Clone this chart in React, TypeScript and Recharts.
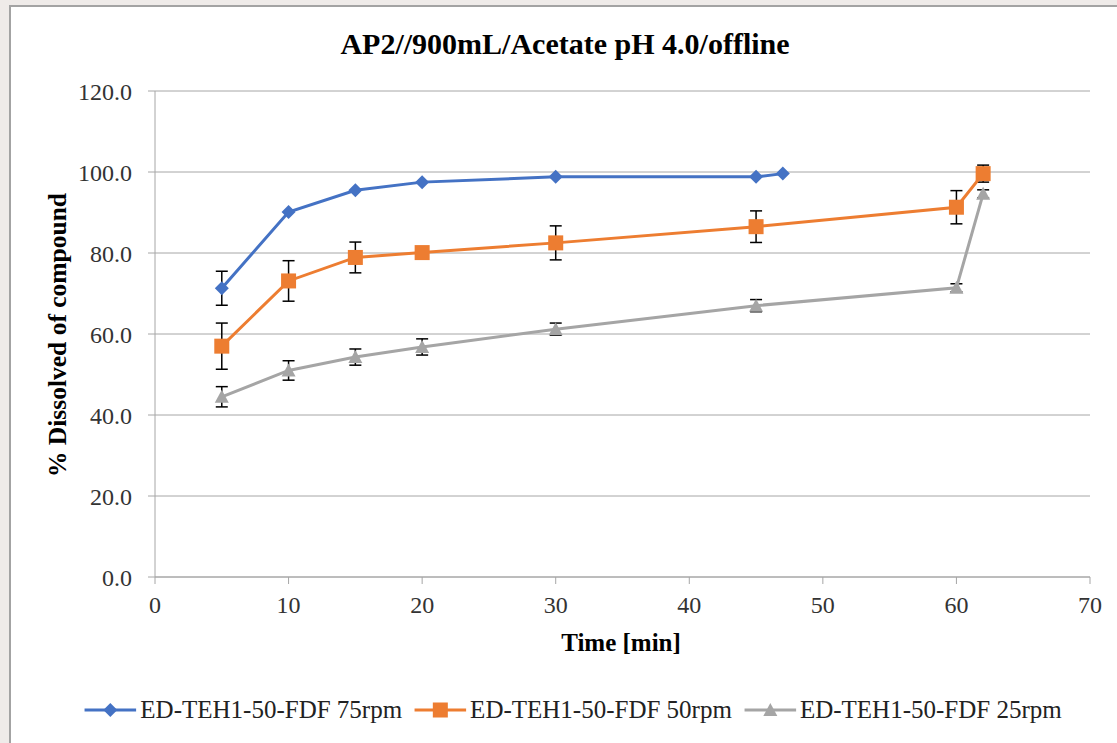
import { LineChart, Line, XAxis, YAxis, CartesianGrid, ErrorBar } from 'recharts';

const timesFast = [5, 10, 15, 20, 30, 45, 47];
const fast75 = [71.3, 90.1, 95.5, 97.5, 98.8, 98.8, 99.6];
const fast75Err = [4.2, 0, 0, 0, 0, 0, 0];

const timesSlow = [5, 10, 15, 20, 30, 45, 60, 62];
const mid50 = [57.0, 73.1, 78.9, 80.1, 82.5, 86.5, 91.3, 99.6];
const mid50Err = [5.7, 5.0, 3.8, 0, 4.2, 3.9, 4.1, 2.1];
const slow25 = [44.5, 51.0, 54.3, 56.8, 61.2, 67.0, 71.4, 94.6];
const slow25Err = [2.5, 2.4, 2.0, 2.0, 1.5, 1.5, 1.0, 1.0];

const xTicks = [0, 10, 20, 30, 40, 50, 60, 70];
const yTicks = [0, 20, 40, 60, 80, 100, 120];

const seriesNames = ['ED-TEH1-50-FDF 75rpm', 'ED-TEH1-50-FDF 50rpm', 'ED-TEH1-50-FDF 25rpm'];
const COLORS = ['#4472c4', '#ed7d31', '#a5a5a5'];

const fastData = timesFast.map((t, i) => ({ time: t, value: fast75[i], err: fast75Err[i] }));
const midData = timesSlow.map((t, i) => ({ time: t, value: mid50[i], err: mid50Err[i] }));
const slowData = timesSlow.map((t, i) => ({ time: t, value: slow25[i], err: slow25Err[i] }));

const FONT = '"Liberation Serif", "Times New Roman", serif';

const Marker = ({ kind, cx, cy, color }: { kind: number; cx: number; cy: number; color: string }) => {
  if (kind === 0) {
    const r = 7;
    return <polygon points={`${cx},${cy - r} ${cx + r},${cy} ${cx},${cy + r} ${cx - r},${cy}`} fill={color} />;
  }
  if (kind === 1) {
    return <rect x={cx - 7.5} y={cy - 7.5} width={15} height={15} fill={color} />;
  }
  return <polygon points={`${cx},${cy - 7} ${cx + 7},${cy + 6} ${cx - 7},${cy + 6}`} fill={color} />;
};

const dotFor = (kind: number) => (p: any) => (
  <Marker key={`dot-${kind}-${p.index}`} kind={kind} cx={p.cx} cy={p.cy} color={COLORS[kind]} />
);

const App = () => {
  return (
    <div
      style={{
        position: 'fixed',
        left: 0,
        top: 0,
        width: 1117,
        height: 743,
        background: '#efebe9',
        overflow: 'hidden',
        fontFamily: FONT,
      }}
    >
      <div
        style={{
          position: 'absolute',
          left: 9,
          top: 5,
          width: 1130,
          height: 760,
          background: '#ffffff',
          borderLeft: '2px solid #a3a3a3',
          borderTop: '2px solid #a3a3a3',
        }}
      />
      <div
        style={{
          position: 'absolute',
          left: 565,
          top: 44,
          transform: 'translate(-50%, -50%)',
          whiteSpace: 'nowrap',
          fontWeight: 'bold',
          fontSize: 30,
          color: '#000',
        }}
      >
        AP2//900mL/Acetate pH 4.0/offline
      </div>
      <div
        style={{
          position: 'absolute',
          left: 58,
          top: 335,
          transform: 'translate(-50%, -50%) rotate(-90deg)',
          whiteSpace: 'nowrap',
          fontWeight: 'bold',
          fontSize: 25.5,
          color: '#000',
        }}
      >
        % Dissolved of compound
      </div>
      <div
        style={{
          position: 'absolute',
          left: 621,
          top: 643,
          transform: 'translate(-50%, -50%)',
          whiteSpace: 'nowrap',
          fontWeight: 'bold',
          fontSize: 25,
          color: '#000',
        }}
      >
        Time [min]
      </div>
      <LineChart
        width={1117}
        height={743}
        style={{ position: 'absolute', left: 0, top: 0 }}
        margin={{ top: 91, right: 27, bottom: 126, left: 55 }}
      >
        <CartesianGrid vertical={false} stroke="#a6a6a6" strokeWidth={1} />
        <XAxis
          type="number"
          dataKey="time"
          domain={[0, 70]}
          ticks={xTicks}
          height={40}
          tickSize={7}
          tickMargin={12}
          stroke="#a6a6a6"
          tick={{ fill: '#333', fontSize: 24, fontFamily: FONT }}
          allowDuplicatedCategory={false}
        />
        <YAxis
          type="number"
          domain={[0, 120]}
          ticks={yTicks}
          width={100}
          tickSize={7}
          tickMargin={16}
          stroke="#a6a6a6"
          tickFormatter={(v: number) => v.toFixed(1)}
          tick={{ fill: '#333', fontSize: 24, fontFamily: FONT }}
        />
        <Line
          data={fastData}
          dataKey="value"
          name={seriesNames[0]}
          stroke={COLORS[0]}
          strokeWidth={3}
          dot={dotFor(0)}
          activeDot={false}
          isAnimationActive={false}
        >
          <ErrorBar dataKey="err" direction="y" width={6} stroke="#000" strokeWidth={1.5} />
        </Line>
        <Line
          data={midData}
          dataKey="value"
          name={seriesNames[1]}
          stroke={COLORS[1]}
          strokeWidth={3}
          dot={dotFor(1)}
          activeDot={false}
          isAnimationActive={false}
        >
          <ErrorBar dataKey="err" direction="y" width={6} stroke="#000" strokeWidth={1.5} />
        </Line>
        <Line
          data={slowData}
          dataKey="value"
          name={seriesNames[2]}
          stroke={COLORS[2]}
          strokeWidth={3}
          dot={dotFor(2)}
          activeDot={false}
          isAnimationActive={false}
        >
          <ErrorBar dataKey="err" direction="y" width={6} stroke="#000" strokeWidth={1.5} />
        </Line>
      </LineChart>
      <div
        style={{
          position: 'absolute',
          left: 573,
          top: 710,
          transform: 'translate(-50%, -50%)',
          display: 'flex',
          whiteSpace: 'nowrap',
          gap: 12,
          fontSize: 25,
          color: '#222',
        }}
      >
        {seriesNames.map((name, i) => (
          <div key={name} style={{ display: 'flex', alignItems: 'center' }}>
            <svg width={52} height={20} style={{ marginRight: 4 }}>
              <line x1={0} y1={10} x2={52} y2={10} stroke={COLORS[i]} strokeWidth={3} />
              <Marker kind={i} cx={26} cy={10} color={COLORS[i]} />
            </svg>
            <span>{name}</span>
          </div>
        ))}
      </div>
    </div>
  );
};

export default App;
